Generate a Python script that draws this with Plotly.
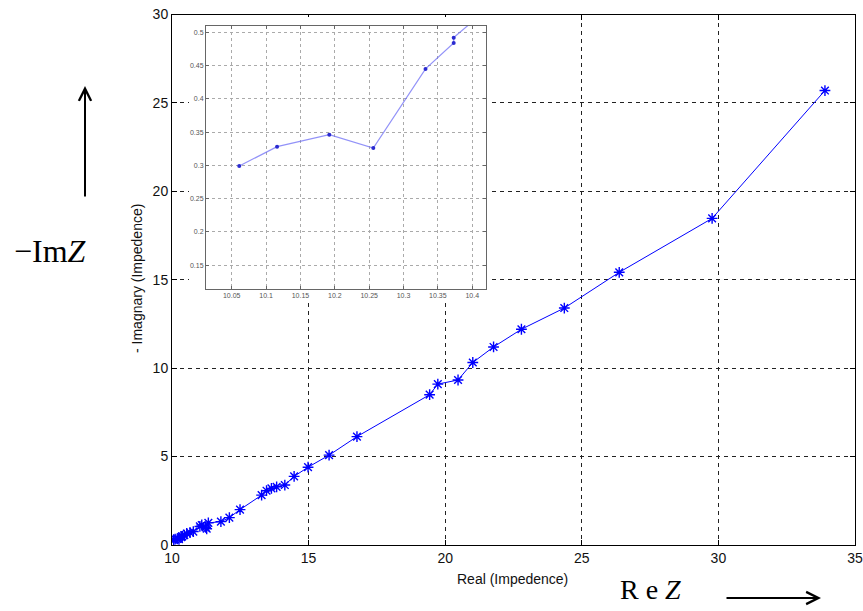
import plotly.graph_objects as go

# Main Nyquist data (Real, -Imag)
re_z = [10.061, 10.116, 10.192, 10.256, 10.332, 10.373, 10.373, 10.45, 10.54, 10.66,
        10.78, 11.02, 11.09, 11.27, 11.23, 11.33, 11.79, 12.10, 12.49, 13.28,
        13.46, 13.64, 13.83, 14.13, 14.47, 14.98, 15.75, 16.77, 19.43, 19.73,
        20.47, 21.01, 21.77, 22.79, 24.36, 26.37, 29.77, 33.9]
im_z = [0.299, 0.328, 0.346, 0.326, 0.445, 0.484, 0.492, 0.56, 0.65, 0.70,
        0.76, 1.05, 1.13, 0.92, 1.00, 1.25, 1.32, 1.55, 2.00, 2.82,
        3.07, 3.20, 3.29, 3.39, 3.88, 4.40, 5.08, 6.13, 8.50, 9.10,
        9.33, 10.32, 11.20, 12.20, 13.40, 15.42, 18.47, 25.7]

# Inset (zoom of the lowest-frequency points)
inset_re = [10.061, 10.116, 10.192, 10.256, 10.332, 10.373, 10.373, 10.45]
inset_im = [0.299, 0.328, 0.346, 0.326, 0.445, 0.484, 0.492, 0.56]

main_xticks = [10, 15, 20, 25, 30, 35]
main_yticks = [0, 5, 10, 15, 20, 25, 30]
inset_xticks = [10.05, 10.1, 10.15, 10.2, 10.25, 10.3, 10.35, 10.4]
inset_yticks = [0.15, 0.2, 0.25, 0.3, 0.35, 0.4, 0.45, 0.5]

W, H = 863, 611
def px(x):
    return x / W
def py(y):
    return 1 - y / H

fig = go.Figure()

fig.add_trace(go.Scatter(
    x=re_z, y=im_z, mode="lines+markers", xaxis="x", yaxis="y",
    line=dict(color="#0000ff", width=1),
    marker=dict(symbol="asterisk-open", size=9, color="#0000ff",
                line=dict(color="#0000ff", width=1.4)),
    showlegend=False, hoverinfo="skip"))

# white cover box behind the inset (covers main grid)
fig.add_trace(go.Scatter(x=[None], y=[None], xaxis="x2", yaxis="y2",
                         showlegend=False, hoverinfo="skip"))

fig.add_trace(go.Scatter(
    x=inset_re, y=inset_im, mode="lines+markers", xaxis="x3", yaxis="y3",
    line=dict(color="rgba(110,110,245,0.75)", width=1.2),
    marker=dict(symbol="circle", size=4, color="#2a2ad0"),
    showlegend=False, hoverinfo="skip", cliponaxis=True))

font_main = dict(family="Liberation Sans, Arial, sans-serif", size=14, color="#111")
inset_font = dict(family="Liberation Sans, Arial, sans-serif", size=7, color="#555")

fig.update_layout(
    width=W, height=H,
    margin=dict(l=0, r=0, t=0, b=0, autoexpand=False),
    paper_bgcolor="white", plot_bgcolor="white",
    xaxis=dict(domain=[px(172), px(855)], range=[10, 35], tickvals=main_xticks,
               ticks="inside", ticklen=5, tickcolor="black", mirror="ticks",
               showline=True, linecolor="black", linewidth=1, automargin=False,
               showgrid=True, gridcolor="#222", griddash="4px,4px", gridwidth=1,
               zeroline=False, tickfont=font_main, anchor="y"),
    yaxis=dict(domain=[py(545), py(14.5)], range=[0, 30], tickvals=main_yticks,
               ticks="inside", ticklen=5, tickcolor="black", mirror="ticks",
               showline=True, linecolor="black", linewidth=1, automargin=False,
               showgrid=True, gridcolor="#222", griddash="4px,4px", gridwidth=1,
               zeroline=False, tickfont=font_main, anchor="x"),
    xaxis2=dict(domain=[px(189), px(489)], range=[0, 1], visible=False, anchor="y2",
                automargin=False),
    yaxis2=dict(domain=[py(301), py(17)], range=[0, 1], visible=False, anchor="x2",
                automargin=False),
    xaxis3=dict(domain=[px(206), px(486)], range=[10.0126, 10.42], tickvals=inset_xticks,
                ticktext=["10.05", "10.1", "10.15", "10.2", "10.25", "10.3", "10.35", "10.4"],
                ticks="inside", ticklen=3, tickcolor="#666", mirror="ticks",
                showline=True, linecolor="#666", linewidth=1, automargin=False,
                showgrid=True, gridcolor="#aaa", griddash="dot", gridwidth=1,
                zeroline=False, anchor="y3", tickfont=inset_font),
    yaxis3=dict(domain=[py(289), py(26)], range=[0.114, 0.5095], tickvals=inset_yticks,
                ticktext=["0.15", "0.2", "0.25", "0.3", "0.35", "0.4", "0.45", "0.5"],
                ticks="inside", ticklen=3, tickcolor="#666", mirror="ticks",
                showline=True, linecolor="#666", linewidth=1, automargin=False,
                showgrid=True, gridcolor="#aaa", griddash="dot", gridwidth=1,
                zeroline=False, anchor="x3", tickfont=inset_font),
)

ann = []
ann.append(dict(text="Real (Impedence)", x=px(512), y=py(579), xref="paper", yref="paper",
                showarrow=False, font=font_main, xanchor="center", yanchor="middle"))
ann.append(dict(text="- Imagnary (Impedence)", x=px(137), y=py(279), xref="paper", yref="paper",
                showarrow=False, font=dict(family="Liberation Sans, Arial, sans-serif", size=14, color="#111"),
                textangle=-90, xanchor="center", yanchor="middle"))
serif = dict(family="Liberation Serif, Times New Roman, serif", size=32, color="black")
ann.append(dict(text="\u2212Im<i>Z</i>", x=px(50), y=py(251), xref="paper", yref="paper",
                showarrow=False, font=serif, xanchor="center", yanchor="middle"))
ann.append(dict(text="R e <i>Z</i>", x=px(650), y=py(589), xref="paper", yref="paper",
                showarrow=False, font=dict(family="Liberation Serif, Times New Roman, serif", size=28, color="black"),
                xanchor="center", yanchor="middle"))
# arrows
ann.append(dict(text="", x=px(85), y=py(86), xref="paper", yref="paper",
                ax=0, ay=112, axref="pixel", ayref="pixel", showarrow=True,
                arrowhead=5, arrowsize=1.2, arrowwidth=2, arrowcolor="black"))
ann.append(dict(text="", x=px(821), y=py(598), xref="paper", yref="paper",
                ax=-96, ay=0, axref="pixel", ayref="pixel", showarrow=True,
                arrowhead=5, arrowsize=1.2, arrowwidth=2, arrowcolor="black"))
fig.update_layout(annotations=ann)

fig.write_html("out.html")
